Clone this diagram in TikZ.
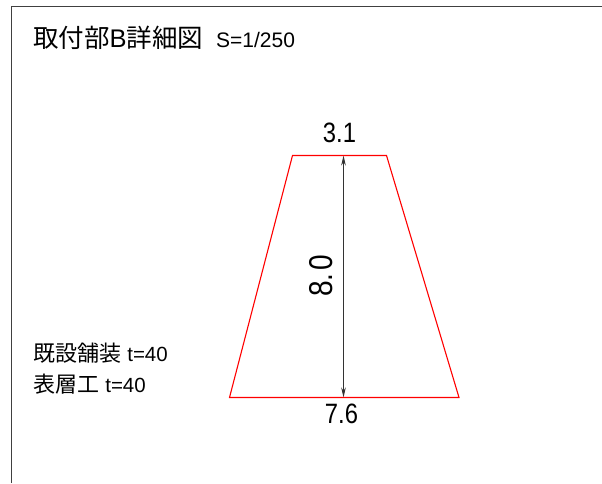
\documentclass[tikz,border=0pt]{standalone}
\usepackage{fontspec}
\setmainfont{Liberation Sans}
\newfontfamily\cjk{Noto Sans CJK JP}
\usetikzlibrary{arrows.meta}
\tikzset{
  framel/.style={draw=black!75,line width=0.9pt},
  redl/.style={draw=red,line width=1.1pt,line join=miter},
  diml/.style={draw=black!80,line width=0.9pt,{Stealth[length=10pt,width=4.6pt]}-{Stealth[length=10pt,width=4.6pt]}},
  lab/.style={inner sep=0pt,anchor=base west,text=black},
  dimt/.style={inner sep=0pt,anchor=base,text=black,font=\fontsize{28}{28}\selectfont}
}
\begin{document}
\begin{tikzpicture}[x=1pt,y=-1pt]
\useasboundingbox (0,0) rectangle (602,483);
\coordinate (fa) at (11,483);
\coordinate (fb) at (11,6.5);
\coordinate (fc) at (602,6.5);
\draw[framel] (fa) -- (fb) -- (fc);
\coordinate (tl) at (292.5,155.5);
\coordinate (tr) at (386.5,155.5);
\coordinate (br) at (459,397.5);
\coordinate (bl) at (229.5,397.5);
\coordinate (dt) at (343.5,155.5);
\coordinate (db) at (343.5,397.5);
\draw[diml] (dt) -- (db);
\draw[redl] (tl) -- (tr) -- (br) -- (bl) -- cycle;
\node[lab] (title) at (33,47) {\fontsize{25.5}{25.5}\selectfont\cjk 取付部\fontspec{Liberation Sans}B\cjk 詳細図};
\node[lab] (scale) at (216,47.5) {\fontsize{21}{21}\selectfont S=1/250};
\node[lab] (n1) at (33,361) {\fontsize{22}{22}\selectfont{\cjk 既設舗装} {\fontsize{20.5}{20.5}\selectfont t=40}};
\node[lab] (n2) at (33,392) {\fontsize{22}{22}\selectfont{\cjk 表層工} {\fontsize{20.5}{20.5}\selectfont t=40}};
\node[dimt,xscale=.85] (d1) at (339.5,142.5) {3.1};
\node[dimt,xscale=.85] (d2) at (341.5,423.5) {7.6};
\node[dimt,yscale=.85,rotate=90,font=\fontsize{33}{33}\selectfont] (d3) at (332,276) {8.\kern3pt 0};
\end{tikzpicture}
\end{document}
